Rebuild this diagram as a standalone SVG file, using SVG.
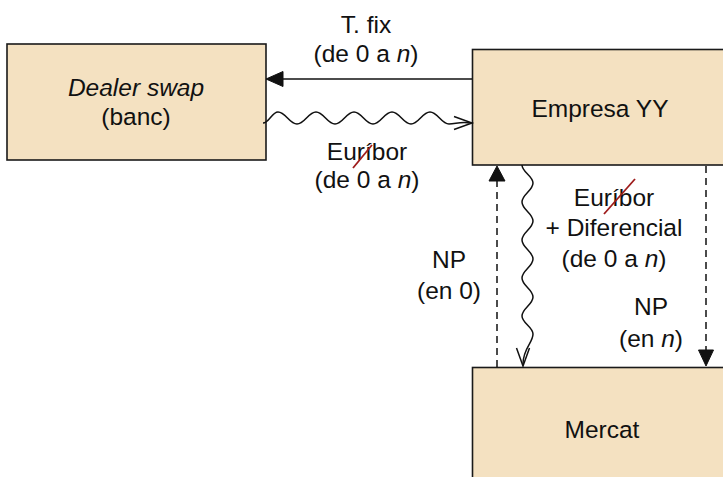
<svg xmlns="http://www.w3.org/2000/svg" width="723" height="477" viewBox="0 0 723 477">
  <style>
    .box { fill: #F4E1C1; stroke: #1a1a1a; stroke-width: 1.6; }
    .lbl { font-family: "Liberation Sans", Arial, sans-serif; font-size: 24.5px; fill: #111; text-anchor: middle; }
    .it { font-style: italic; }
    .line { fill: none; stroke: #111; stroke-width: 1.5; }
    .dash { fill: none; stroke: #111; stroke-width: 1.5; stroke-dasharray: 7 5; }
    .head { fill: #111; stroke: #111; stroke-width: 1; }
    .open { fill: none; stroke: #111; stroke-width: 1.5; stroke-linejoin: miter; }
    .strike { stroke: #9E1B1B; stroke-width: 1.8; }
  </style>
  <rect width="723" height="477" fill="#fff"/>

  <g id="dealer">
    <rect class="box" x="7" y="44" width="259" height="116"/>
    <text class="lbl it" x="136" y="96">Dealer swap</text>
    <text class="lbl" x="136" y="125">(banc)</text>
  </g>

  <g id="empresa">
    <rect class="box" x="472.5" y="49.5" width="262" height="115.5"/>
    <text class="lbl" x="600" y="117">Empresa YY</text>
  </g>

  <g id="mercat">
    <rect class="box" x="472.5" y="367.5" width="262" height="120"/>
    <text class="lbl" x="602" y="438">Mercat</text>
  </g>

  <g id="connectors">
    <!-- fixed rate: company to dealer -->
    <line class="line" x1="472" y1="79" x2="280" y2="79"/>
    <path class="head" d="M266,79 L283,71.5 L283,86.5 Z"/>

    <!-- floating rate: dealer to company (wavy) -->
    <path class="line" d="M263,123 C269,123 272,112 278,112 C285.6,112 289.4,124 297,124 C304.6,124 308.4,112 316,112 C323.6,112 327.4,124 335,124 C342.6,124 346.4,112 354,112 C361.6,112 365.4,124 373,124 C380.6,124 384.4,112 392,112 C399.6,112 403.4,124 411,124 C418.6,124 422.4,112 430,112 C437.6,112 441.4,124 449,124 C456,124 460,121 471,123"/>
    <path class="open" d="M454,116.5 L472,123 L454,129.5"/>

    <!-- floating rate + spread: company to market (wavy) -->
    <path class="line" d="M522,165 C522,172 533,176 533,183 C533,190.6 522,194.4 522,202 C522,209.6 533,213.4 533,221 C533,228.6 522,232.4 522,240 C522,247.6 533,251.4 533,259 C533,266.6 522,270.4 522,278 C522,285.6 533,289.4 533,297 C533,304.6 522,308.4 522,316 C522,323 533,327 533,334 C533,343 523,348 523,364"/>
    <path class="open" d="M516.5,348 L523,366 L529.5,348"/>

    <!-- principal at 0: market to company -->
    <line class="dash" x1="497" y1="367" x2="497" y2="181"/>
    <path class="head" d="M497,166 L489,181 L505,181 Z"/>

    <!-- principal at n: company to market -->
    <line class="dash" x1="706" y1="166" x2="706" y2="351"/>
    <path class="head" d="M706,366 L698.5,350 L713.5,350 Z"/>
  </g>

  <g id="labels">
    <text class="lbl" x="366" y="33">T. fix</text>
    <text class="lbl" x="366" y="62">(de 0 a <tspan class="it">n</tspan>)</text>

    <text class="lbl" x="367" y="160">Euríbor</text>
    <line class="strike" x1="353" y1="168" x2="372" y2="145"/>
    <text class="lbl" x="367" y="188">(de 0 a <tspan class="it">n</tspan>)</text>

    <text class="lbl" x="614" y="206">Euríbor</text>
    <line class="strike" x1="604" y1="214" x2="635" y2="179"/>
    <text class="lbl" x="614" y="236">+ Diferencial</text>
    <text class="lbl" x="614" y="267">(de 0 a <tspan class="it">n</tspan>)</text>

    <text class="lbl" x="449" y="268">NP</text>
    <text class="lbl" x="449" y="299">(en 0)</text>

    <text class="lbl" x="651" y="315">NP</text>
    <text class="lbl" x="651" y="347">(en <tspan class="it">n</tspan>)</text>
  </g>
</svg>
